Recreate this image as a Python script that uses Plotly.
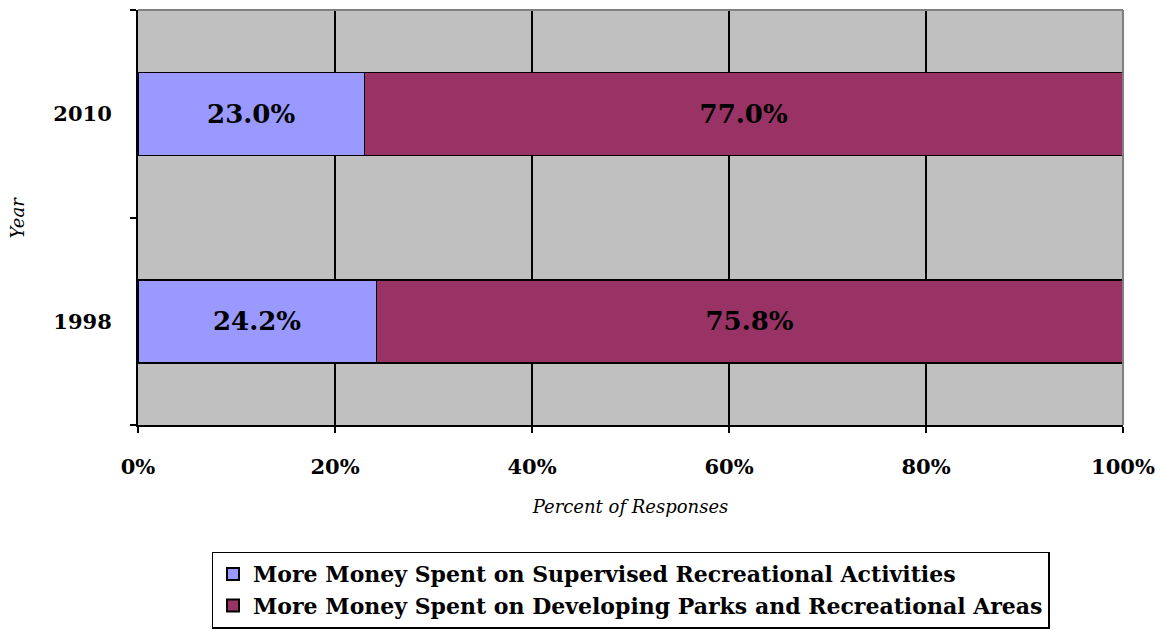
import plotly.graph_objects as go

years = ["1998", "2010"]
supervised = [0.242, 0.230]
parks = [0.758, 0.770]
series_names = [
    "More Money Spent on Supervised Recreational Activities",
    "More Money Spent on Developing Parks and Recreational Areas",
]
x_ticks = [0, 0.2, 0.4, 0.6, 0.8, 1.0]
x_tick_labels = ["0%", "20%", "40%", "60%", "80%", "100%"]

FONT = "Georgia, 'DejaVu Serif', serif"

fig = go.Figure()
for name, vals, color in [
    (series_names[0], supervised, "#9999FF"),
    (series_names[1], parks, "#993366"),
]:
    fig.add_trace(go.Bar(
        y=years, x=vals, name=name, orientation="h",
        marker=dict(color=color, line=dict(color="black", width=1.5)),
        text=[f"{v * 100:.1f}%" for v in vals],
        textposition="inside", insidetextanchor="middle",
        textfont=dict(family=FONT, size=26, color="black", weight="bold"),
        width=0.4,
    ))

# the page body has an 8px margin, so the figure is 8px smaller each way
fig.update_layout(
    barmode="stack",
    width=1159, height=623,
    margin=dict(l=130, r=44, t=2, b=204),
    paper_bgcolor="white",
    plot_bgcolor="#C0C0C0",
    font=dict(family=FONT, color="black"),
    legend=dict(
        x=0.5, xanchor="center", y=-0.305, yanchor="top",
        orientation="v", traceorder="normal",
        bordercolor="black", borderwidth=1.5, bgcolor="white",
        font=dict(family=FONT, size=22, weight="bold"),
        itemsizing="constant",
    ),
    uniformtext=dict(minsize=10, mode="show"),
)

fig.update_xaxes(
    range=[0, 1], automargin=False,
    tickvals=x_ticks, ticktext=x_tick_labels,
    showgrid=True, gridcolor="black", gridwidth=1.5,
    showline=True, linecolor="black", linewidth=2,
    ticks="outside", ticklen=6, tickwidth=2, tickcolor="black",
    tickfont=dict(size=21, weight="bold"),
    ticklabelstandoff=16,
    title=dict(text="<i>Percent of Responses</i>", font=dict(size=18), standoff=22),
    zeroline=False,
)
fig.update_yaxes(
    type="category", categoryorder="array", categoryarray=years,
    range=[-0.5, 1.5], tickson="boundaries", automargin=False,
    showgrid=False,
    showline=True, linecolor="black", linewidth=2,
    ticks="outside", ticklen=6, tickwidth=2, tickcolor="black",
    tickfont=dict(size=21, weight="bold"),
    ticklabelstandoff=20,
)

# y axis title sits further left than plotly's standoff allows
fig.add_annotation(
    text="<i>Year</i>", textangle=-90, showarrow=False,
    xref="paper", yref="paper", x=0, y=0.5, xanchor="center", yanchor="middle",
    xshift=-121, font=dict(family=FONT, size=18),
)

# gray frame on the top and right of the plot area
fig.add_shape(type="line", xref="paper", yref="paper", x0=0, x1=1, y0=1, y1=1,
              line=dict(color="#808080", width=2))
fig.add_shape(type="line", xref="paper", yref="paper", x0=1, x1=1, y0=0, y1=1,
              line=dict(color="#808080", width=2))

fig.write_html("out.html")
